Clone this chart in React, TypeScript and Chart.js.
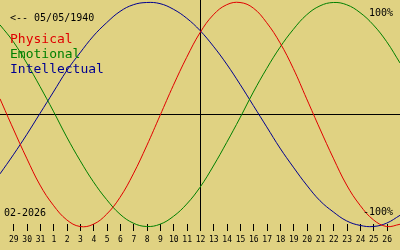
import React, { useEffect, useRef } from "react";
import { Chart, registerables } from "chart.js";

Chart.register(...registerables);

// Day labels shown under the axis (index 0..28)
const tickLabels = [
  "29", "30", "31", "1", "2", "3", "4", "5", "6", "7", "8", "9", "10", "11", "12",
  "13", "14", "15", "16", "17", "18", "19", "20", "21", "22", "23", "24", "25", "26",
];

// Values for days from index -1 (28 Jan) to index 29 (27 Feb)
const physical = [
  0.14, -0.13, -0.39, -0.63, -0.81, -0.94, -1.0, -0.98, -0.89, -0.74, -0.53,
  -0.28, -0.01, 0.26, 0.51, 0.73, 0.89, 0.98, 1.0, 0.95, 0.82, 0.64,
  0.41, 0.14, -0.13, -0.39, -0.63, -0.81, -0.94, -1.0, -0.98,
];
const emotional = [
  0.8, 0.65, 0.46, 0.25, 0.03, -0.2, -0.41, -0.6, -0.76, -0.89, -0.97,
  -1.0, -0.98, -0.91, -0.8, -0.65, -0.46, -0.25, -0.03, 0.2, 0.41, 0.6,
  0.76, 0.89, 0.97, 1.0, 0.98, 0.91, 0.8, 0.65, 0.46,
];
const intellectual = [
  -0.53, -0.36, -0.18, 0.01, 0.2, 0.39, 0.55, 0.7, 0.82, 0.92, 0.98,
  1.0, 0.99, 0.94, 0.86, 0.75, 0.61, 0.45, 0.27, 0.08, -0.11, -0.3,
  -0.47, -0.63, -0.77, -0.87, -0.95, -0.99, -1.0, -0.97, -0.9,
];

const seriesNames = ["Physical", "Emotional", "Intellectual"];
const todayIndex = 14;
const birthText = "<-- 05/05/1940";
const monthText = "02-2026";
const topText = "100%";
const bottomText = "-100%";

const COLORS = ["#e00000", "#008000", "#000090"];
const BG = "#e0d282";
const MONO = '"DejaVu Sans Mono", monospace';

const overlayPlugin = {
  id: "bioOverlay",
  beforeDraw(chart: any) {
    const ctx = chart.ctx;
    ctx.save();
    ctx.fillStyle = BG;
    ctx.fillRect(0, 0, chart.width, chart.height);
    ctx.restore();
  },
  beforeDatasetsDraw(chart: any) {
    const ctx = chart.ctx;
    const xs = chart.scales.x;
    const ys = chart.scales.y;
    const area = chart.chartArea;
    ctx.save();
    ctx.strokeStyle = "#000";
    ctx.lineWidth = 1;
    const y0 = Math.round(ys.getPixelForValue(0)) + 0.5;
    ctx.beginPath();
    ctx.moveTo(area.left, y0);
    ctx.lineTo(area.right, y0);
    const xt = Math.round(xs.getPixelForValue(todayIndex)) + 0.5;
    ctx.moveTo(xt, area.top);
    ctx.lineTo(xt, 231);
    ctx.stroke();

    // ticks + labels
    ctx.beginPath();
    tickLabels.forEach((_, i) => {
      const x = Math.round(xs.getPixelForValue(i)) + 0.5;
      ctx.moveTo(x, 224);
      ctx.lineTo(x, 231);
    });
    ctx.stroke();
    ctx.fillStyle = "#000";
    ctx.font = `8px ${MONO}`;
    ctx.textAlign = "center";
    ctx.textBaseline = "alphabetic";
    tickLabels.forEach((lab, i) => {
      const x = xs.getPixelForValue(i);
      ctx.fillText(lab, x + 0.5, 242);
    });
    ctx.restore();
  },
  afterDatasetsDraw(chart: any) {
    const ctx = chart.ctx;
    ctx.save();
    ctx.textBaseline = "alphabetic";
    ctx.textAlign = "left";
    ctx.fillStyle = "#000";
    ctx.font = `10px ${MONO}`;
    ctx.fillText(birthText, 10, 21);
    ctx.fillText(monthText, 4, 216);
    ctx.textAlign = "right";
    ctx.fillText(topText, 393, 16);
    ctx.fillText(bottomText, 393, 215);
    ctx.textAlign = "left";
    ctx.font = `13px ${MONO}`;
    seriesNames.forEach((n, i) => {
      ctx.fillStyle = COLORS[i];
      ctx.fillText(n, 10, 43 + i * 15);
    });
    ctx.restore();
  },
};

export default function App() {
  const ref = useRef<HTMLCanvasElement | null>(null);
  useEffect(() => {
    document.body.style.margin = "0";
    if (!ref.current) return;
    const toPts = (arr: number[]) => arr.map((v, i) => ({ x: i - 1, y: v }));
    const series = [physical, emotional, intellectual];
    const chart = new Chart(ref.current, {
      type: "line",
      data: {
        datasets: series.map((s, i) => ({
          label: seriesNames[i],
          data: toPts(s),
          borderColor: COLORS[i],
          borderWidth: 1,
          pointRadius: 0,
          tension: 0.4,
          fill: false,
        })),
      },
      options: {
        animation: false,
        responsive: false,
        maintainAspectRatio: false,
        layout: { padding: 0 },
        plugins: { legend: { display: false }, tooltip: { enabled: false } },
        scales: {
          x: { type: "linear", min: -1, max: 29, display: false },
          y: { type: "linear", min: -1.2098, max: 1.0223, display: false },
        },
      },
      plugins: [overlayPlugin],
    });
    return () => chart.destroy();
  }, []);
  return (
    <div style={{ width: 400, height: 250 }}>
      <canvas ref={ref} width={400} height={250} />
    </div>
  );
}
